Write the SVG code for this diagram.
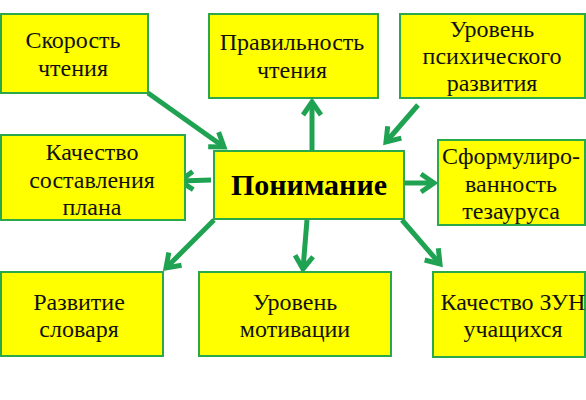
<svg xmlns="http://www.w3.org/2000/svg" width="586" height="400" viewBox="0 0 586 400">
<style>
.box{fill:#FFFF00;stroke:#2AA84A;stroke-width:2}
.t{font-family:"Liberation Serif","Times New Roman",serif;font-size:24px;fill:#111;text-anchor:middle}
.main{font-family:"Liberation Serif","Times New Roman",serif;font-size:30px;font-weight:bold;fill:#000;text-anchor:middle}
.c{stroke:#1FA352;stroke-width:5;fill:none;marker-end:url(#ah)}
</style>
<defs>
<marker id="ah" markerUnits="userSpaceOnUse" markerWidth="40" markerHeight="40" viewBox="-20 -20 40 40" refX="0" refY="0" orient="auto" overflow="visible">
<path d="M-13,-9 L0,0 L-13,9" fill="none" stroke="#1FA352" stroke-width="5" stroke-linejoin="miter" stroke-linecap="butt"/>
</marker>
</defs>
<rect width="586" height="400" fill="#fff"/>
<g id="connectors">
<line class="c" x1="148" y1="93" x2="224" y2="147"/>
<line class="c" x1="312" y1="151" x2="312" y2="102"/>
<line class="c" x1="418" y1="105" x2="386" y2="142"/>
<line class="c" x1="211" y1="180" x2="180" y2="181"/>
<line class="c" x1="405" y1="183" x2="434" y2="183"/>
<line class="c" x1="214" y1="220" x2="166" y2="268"/>
<line class="c" x1="307" y1="220" x2="303" y2="269"/>
<line class="c" x1="402" y1="220" x2="440" y2="264"/>
</g>
<g id="n-speed">
<rect class="box" x="1" y="14" width="147" height="79"/>
<text class="t" x="73" y="48">Скорость</text>
<text class="t" x="73" y="76">чтения</text>
</g>
<g id="n-correct">
<rect class="box" x="209" y="14" width="169" height="84"/>
<text class="t" x="292" y="50">Правильность</text>
<text class="t" x="292" y="78">чтения</text>
</g>
<g id="n-psych">
<rect class="box" x="400" y="14" width="185" height="84"/>
<text class="t" x="492" y="37">Уровень</text>
<text class="t" x="492" y="64">психического</text>
<text class="t" x="492" y="91">развития</text>
</g>
<g id="n-plan">
<rect class="box" x="1" y="135" width="184" height="85"/>
<text class="t" x="92" y="160">Качество</text>
<text class="t" x="92" y="188">составления</text>
<text class="t" x="92" y="215">плана</text>
</g>
<g id="n-center">
<rect class="box" x="214" y="151" width="190" height="68"/>
<text class="main" x="309" y="195">Понимание</text>
</g>
<g id="n-thesaurus">
<rect class="box" x="438" y="140" width="147" height="85"/>
<text class="t" x="511" y="164">Сформулиро-</text>
<text class="t" x="511" y="192">ванность</text>
<text class="t" x="511" y="219">тезауруса</text>
</g>
<g id="n-vocab">
<rect class="box" x="1" y="272" width="162" height="84"/>
<text class="t" x="79" y="310">Развитие</text>
<text class="t" x="79" y="337">словаря</text>
</g>
<g id="n-motiv">
<rect class="box" x="199" y="272" width="192" height="84"/>
<text class="t" x="295" y="310">Уровень</text>
<text class="t" x="295" y="337">мотивации</text>
</g>
<g id="n-zun">
<rect class="box" x="433" y="272" width="152" height="85"/>
<text class="t" x="513" y="310">Качество ЗУН</text>
<text class="t" x="513" y="337">учащихся</text>
</g>
</svg>
